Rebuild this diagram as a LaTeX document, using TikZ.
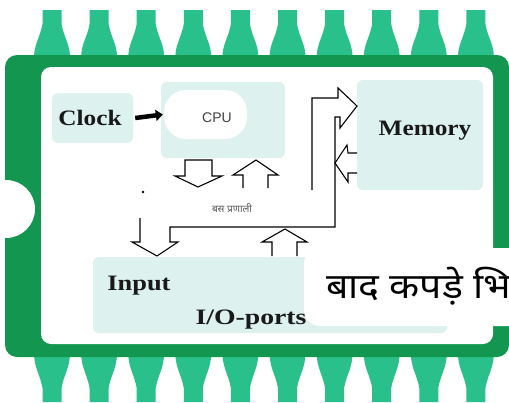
\documentclass[tikz,border=0pt]{standalone}
\usepackage{fontspec}
\setmainfont{Liberation Serif}
\newfontfamily\cpufont{Liberation Sans}
\newfontfamily\deva[Script=Devanagari]{Noto Sans}
\usetikzlibrary{arrows.meta}
\definecolor{pincol}{RGB}{42,192,140}
\definecolor{chipcol}{RGB}{18,150,80}
\definecolor{boxfill}{RGB}{221,241,238}
\definecolor{busgray}{RGB}{90,90,90}
\begin{document}
\begin{tikzpicture}[x=1pt,y=-1pt,
  blk/.style={draw=black, line width=1.1pt, fill=white, line join=miter},
  box/.style={fill=boxfill, rounded corners=6pt, inner sep=0pt},
  lbl/.style={font=\bfseries\fontsize{22}{24}\selectfont, inner sep=0pt, anchor=base, text=black!90}]
\useasboundingbox (0,0) rectangle (509,402);
\clip (0,0) rectangle (509,402);
% pins
\foreach \i in {0,...,9}{
  \pgfmathsetmacro\c{52+47.1*\i}
  \fill[pincol] (\c-9.5,10) -- (\c+9.5,10) -- (\c+9.5,24) .. controls (\c+12,38) and (\c+18,44) .. (\c+18,58) -- (\c-18,58) .. controls (\c-18,44) and (\c-12,38) .. (\c-9.5,24) -- cycle;
  \fill[pincol] (\c-18,352) -- (\c+18,352) .. controls (\c+18,368) and (\c+12,374) .. (\c+9.5,388) -- (\c+9.5,402) -- (\c-9.5,402) -- (\c-9.5,388) .. controls (\c-12,374) and (\c-18,368) .. (\c-18,352) -- cycle;
}
% chip body
\fill[chipcol, rounded corners=12pt] (5,55) rectangle (509,357);
\fill[white, rounded corners=10pt] (41,67) rectangle (493,344);
\fill[white] (6,209) circle (29pt);
% boxes
\node[box, minimum width=81pt, minimum height=50pt] (clockbox) at (92.5,118) {};
\node[box, minimum width=124pt, minimum height=76pt] (cpubox) at (223,120) {};
\node[fill=white, rounded corners=22pt, minimum width=83pt, minimum height=49pt, inner sep=0pt] (cpublob) at (205.5,114.5) {};
\node[box, minimum width=126pt, minimum height=110pt] (membox) at (420,135) {};
\node[box, minimum width=354pt, minimum height=76pt] (iobox) at (270,295) {};
% labels
\node[lbl, xscale=1.15] (clock) at (90,125) {Clock};
\node[lbl, xscale=1.15] (mem) at (425,135) {Memory};
\node[lbl, xscale=1.2] (inp) at (139,290) {Input};
\node[lbl, xscale=1.26] (io) at (251,324) {I/O-ports};
\node[font=\cpufont\fontsize{14}{16}\selectfont, text=black!75] (cpu) at (217,118) {CPU};
\node[font=\deva\fontsize{10}{12}\selectfont, text=busgray] (bus) at (232,208) {बस प्रणाली};
% clock arrow
\draw[line width=4.5pt, -{Triangle[length=7pt,width=11pt]}] ([xshift=2pt]clockbox.east) -- ([xshift=-1pt]cpublob.west);
% block arrows under CPU
\draw[blk] (185,160) -- (185,176) -- (175,176) -- (198,187) -- (222,176) -- (212,176) -- (212,160) -- cycle;
\draw[blk] (243,188) -- (243,175) -- (233,175) -- (256,160) -- (278,175) -- (268,175) -- (268,188);
% big bus path
\draw[blk, fill=none] (140,218) -- (140,242) -- (132,242) -- (157,256) -- (178,242) -- (170,242) -- (170,227) -- (335,227) -- (335,117) -- (340,117) -- (340,128) -- (357,106) -- (338,88) -- (338,98) -- (312,98) -- (312,190);
\fill (143,192) circle (1.3pt);
% arrow into memory (from memory)
\draw[blk] (357,153) -- (348,153) -- (347,145) -- (335,163) -- (348,182) -- (348,173) -- (357,173);
% up arrow into I/O
\draw[blk] (272,256) -- (272,242) -- (262,242) -- (285,229) -- (307,242) -- (297,242) -- (297,256);
% overlay caption
\fill[white, rounded corners=16pt] (304,248) rectangle (545,326);
\node[font=\deva\fontsize{35}{38}\selectfont, anchor=base west, inner sep=0pt, xscale=1.12] (cap) at (326,298) {बाद कपड़े भि};
\end{tikzpicture}
\end{document}
